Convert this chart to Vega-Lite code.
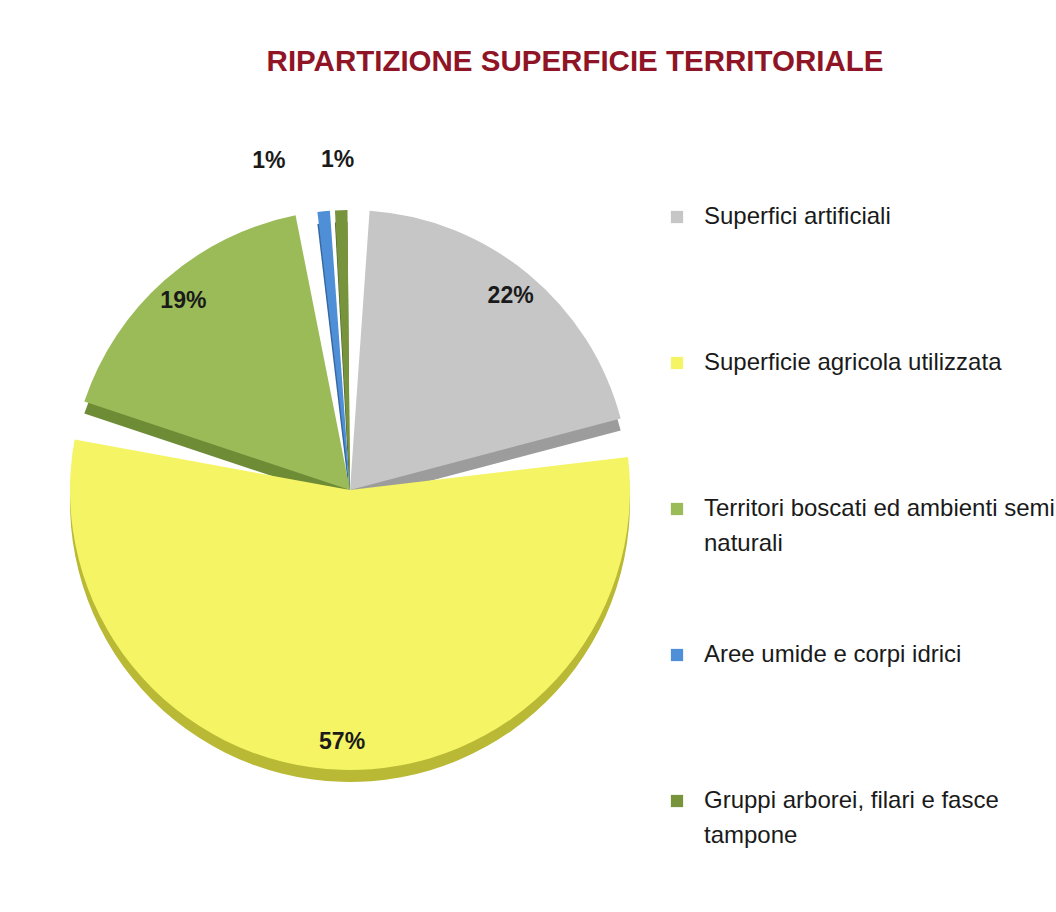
{
  "$schema": "https://vega.github.io/schema/vega-lite/v6.json",
  "autosize": "none",
  "width": 600,
  "height": 620,
  "padding": {"left": 50, "top": 180, "right": 406, "bottom": 112},
  "background": "white",
  "title": {
    "text": "RIPARTIZIONE SUPERFICIE TERRITORIALE",
    "font": "Liberation Sans",
    "fontSize": 29.5,
    "fontWeight": "bold",
    "color": "#8f1526",
    "anchor": "middle",
    "offset": 72,
    "dx": 225
  },
  "data": {
    "values": [
      {"categoria": "Superfici artificiali", "quota": 0.22, "ordine": 1},
      {"categoria": "Superficie agricola utilizzata", "quota": 0.57, "ordine": 2},
      {"categoria": "Territori boscati ed ambienti semi naturali", "quota": 0.19, "ordine": 3},
      {"categoria": "Aree umide e corpi idrici", "quota": 0.01, "ordine": 4},
      {"categoria": "Gruppi arborei, filari e fasce tampone", "quota": 0.01, "ordine": 5}
    ]
  },
  "layer": [
    {
      "mark": {"type": "arc", "outerRadius": 280, "padAngle": 0.14, "yOffset": 12},
      "encoding": {
        "theta": {"field": "quota", "type": "quantitative", "stack": true},
        "order": {"field": "ordine", "type": "quantitative"},
        "opacity": {"condition": {"test": "datum.quota > 0.05", "value": 1}, "value": 0},
        "fill": {
          "field": "categoria",
          "type": "nominal",
          "sort": null,
          "scale": {
            "domain": ["Superfici artificiali", "Superficie agricola utilizzata", "Territori boscati ed ambienti semi naturali", "Aree umide e corpi idrici", "Gruppi arborei, filari e fasce tampone"],
            "range": ["#9c9c9c", "#b9b936", "#6e8b35", "#36679e", "#4f6526"]
          },
          "legend": null
        }
      }
    },
    {
      "mark": {"type": "arc", "outerRadius": 280, "padAngle": 0.018, "yOffset": 12},
      "encoding": {
        "theta": {"field": "quota", "type": "quantitative", "stack": true},
        "order": {"field": "ordine", "type": "quantitative"},
        "opacity": {"condition": {"test": "datum.quota < 0.05", "value": 1}, "value": 0},
        "fill": {
          "field": "categoria",
          "type": "nominal",
          "sort": null,
          "scale": {
            "domain": ["Superfici artificiali", "Superficie agricola utilizzata", "Territori boscati ed ambienti semi naturali", "Aree umide e corpi idrici", "Gruppi arborei, filari e fasce tampone"],
            "range": ["#9c9c9c", "#b9b936", "#6e8b35", "#36679e", "#4f6526"]
          },
          "legend": null
        }
      }
    },
    {
      "mark": {"type": "arc", "outerRadius": 280, "padAngle": 0.14},
      "encoding": {
        "theta": {"field": "quota", "type": "quantitative", "stack": true},
        "order": {"field": "ordine", "type": "quantitative"},
        "opacity": {"condition": {"test": "datum.quota > 0.05", "value": 1}, "value": 0},
        "color": {
          "field": "categoria",
          "type": "nominal",
          "sort": null,
          "scale": {
            "domain": ["Superfici artificiali", "Superficie agricola utilizzata", "Territori boscati ed ambienti semi naturali", "Aree umide e corpi idrici", "Gruppi arborei, filari e fasce tampone"],
            "range": ["#c6c6c6", "#f4f464", "#9bbb59", "#4f8fd8", "#77933c"]
          },
          "legend": {
            "orient": "none",
            "legendX": 615,
            "legendY": 25,
            "title": null,
            "symbolType": "square",
            "symbolSize": 150,
            "symbolStrokeWidth": 0,
            "symbolOpacity": 1,
            "labelFont": "Liberation Sans",
            "labelFontSize": 24,
            "labelColor": "#1a1a1a",
            "labelLimit": 500,
            "labelOffset": 15,
            "rowPadding": 87,
            "labelExpr": "datum.label == 'Territori boscati ed ambienti semi naturali' ? ['Territori boscati ed ambienti semi', 'naturali'] : datum.label == 'Gruppi arborei, filari e fasce tampone' ? ['Gruppi arborei, filari e fasce', 'tampone'] : [datum.label, '']"
          }
        }
      }
    },
    {
      "mark": {"type": "arc", "outerRadius": 280, "padAngle": 0.018},
      "encoding": {
        "theta": {"field": "quota", "type": "quantitative", "stack": true},
        "order": {"field": "ordine", "type": "quantitative"},
        "opacity": {"condition": {"test": "datum.quota < 0.05", "value": 1}, "value": 0},
        "color": {
          "field": "categoria",
          "type": "nominal",
          "sort": null,
          "legend": null
        }
      }
    },
    {
      "mark": {"type": "text", "radius": 252, "font": "Liberation Sans", "fontWeight": "bold", "fontSize": 23, "color": "#1a1a1a"},
      "encoding": {
        "theta": {"field": "quota", "type": "quantitative", "stack": true},
        "order": {"field": "ordine", "type": "quantitative"},
        "text": {"condition": {"test": "datum.quota > 0.05", "field": "quota", "type": "quantitative", "format": ".0%"}, "value": ""}
      }
    },
    {
      "mark": {"type": "text", "radius": 330, "dx": -50, "font": "Liberation Sans", "fontWeight": "bold", "fontSize": 23, "color": "#1a1a1a"},
      "encoding": {
        "theta": {"field": "quota", "type": "quantitative", "stack": true},
        "order": {"field": "ordine", "type": "quantitative"},
        "text": {"condition": {"test": "datum.ordine == 4", "field": "quota", "type": "quantitative", "format": ".0%"}, "value": ""}
      }
    },
    {
      "mark": {"type": "text", "radius": 330, "dx": -2, "font": "Liberation Sans", "fontWeight": "bold", "fontSize": 23, "color": "#1a1a1a"},
      "encoding": {
        "theta": {"field": "quota", "type": "quantitative", "stack": true},
        "order": {"field": "ordine", "type": "quantitative"},
        "text": {"condition": {"test": "datum.ordine == 5", "field": "quota", "type": "quantitative", "format": ".0%"}, "value": ""}
      }
    }
  ],
  "resolve": {"scale": {"fill": "independent", "color": "shared"}},
  "config": {"style": {"guide-label": {"lineHeight": 35}}}
}
